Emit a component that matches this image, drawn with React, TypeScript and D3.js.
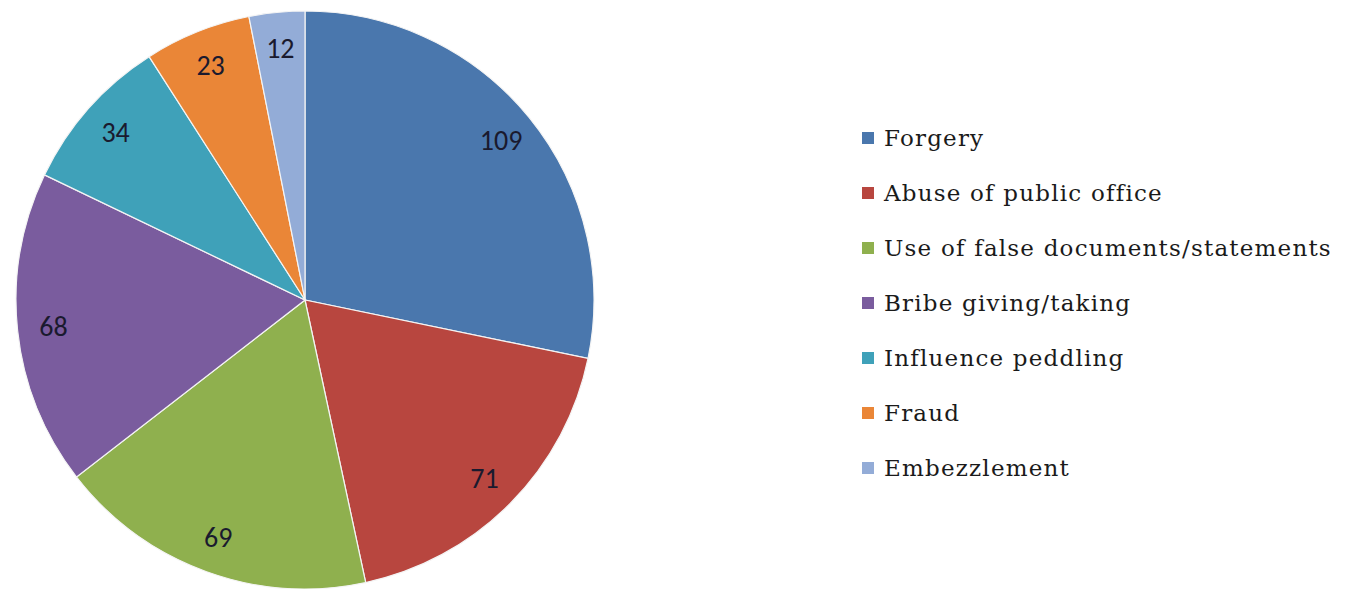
import React from "react";
import * as d3 from "d3";

const categories = [
  "Forgery",
  "Abuse of public office",
  "Use of false documents/statements",
  "Bribe giving/taking",
  "Influence peddling",
  "Fraud",
  "Embezzlement",
];
const values = [109, 71, 69, 68, 34, 23, 12];
const colors = ["#4a77ad", "#b8463f", "#8fb04e", "#7a5c9e", "#3fa1b9", "#ea8637", "#93acd7"];

const W = 1356;
const H = 589;
const cx = 305;
const cy = 300;
const R = 289;

export default function App() {
  const pie = d3.pie<number>().sort(null).value((d) => d);
  const arcs = pie(values);
  const arc = d3.arc<d3.PieArcDatum<number>>().innerRadius(0).outerRadius(R);
  const labelArc = d3.arc<d3.PieArcDatum<number>>().innerRadius(R * 0.875).outerRadius(R * 0.875);
  const legendY = d3.scalePoint<number>().domain(d3.range(categories.length)).range([138, 468]);

  return (
    <svg width={W} height={H} style={{ position: "absolute", left: 0, top: 0, background: "#fff" }}>
      <g transform={`translate(${cx},${cy})`}>
        {arcs.map((a, i) => (
          <path key={i} d={arc(a) || ""} fill={colors[i]} stroke="#f4f4f4" strokeWidth={1.2} />
        ))}
        {arcs.map((a, i) => {
          const [x, y] = labelArc.centroid(a);
          return (
            <text
              key={i}
              x={x}
              y={y}
              textAnchor="middle"
              dominantBaseline="central"
              fontFamily="Carlito, 'Liberation Sans', 'Open Sans', sans-serif"
              fontSize={28}
              fill="#1a1a2e"
            >
              {values[i]}
            </text>
          );
        })}
      </g>
      {categories.map((c, i) => (
        <g key={c} transform={`translate(862,${legendY(i)})`}>
          <rect x={0} y={-6} width={12} height={12} fill={colors[i]} />
          <text
            x={22}
            y={0}
            dominantBaseline="central"
            fontFamily="'DejaVu Serif', serif"
            fontSize={23}
            letterSpacing={1.2}
            fill="#1a1a1a"
          >
            {c}
          </text>
        </g>
      ))}
    </svg>
  );
}
